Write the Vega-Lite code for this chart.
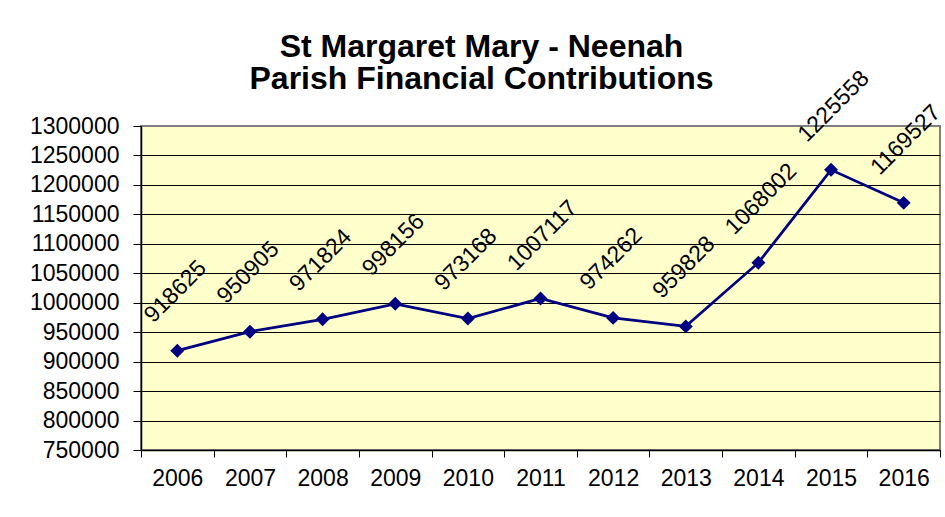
{
  "$schema": "https://vega.github.io/schema/vega-lite/v6.json",
  "width": 799,
  "height": 324,
  "autosize": {"type": "none"},
  "padding": {"left": 141, "top": 126, "right": 5, "bottom": 67},
  "background": "white",
  "title": {
    "text": ["St Margaret Mary - Neenah", "Parish Financial Contributions"],
    "font": "Liberation Sans",
    "fontSize": 32,
    "fontWeight": "bold",
    "color": "black",
    "anchor": "middle",
    "frame": "group",
    "dx": -59,
    "offset": -29,
    "lineHeight": 32
  },
  "config": {
    "view": {"fill": "#FFFFCC", "stroke": "#808080", "strokeWidth": 2},
    "axis": {"labelFont": "Liberation Sans", "labelFontSize": 23, "labelColor": "black", "tickColor": "black", "domainColor": "black", "domainWidth": 1.5}
  },
  "data": {
    "values": [
      {"year": "2006", "amount": 918625},
      {"year": "2007", "amount": 950905},
      {"year": "2008", "amount": 971824},
      {"year": "2009", "amount": 998156},
      {"year": "2010", "amount": 973168},
      {"year": "2011", "amount": 1007117},
      {"year": "2012", "amount": 974262},
      {"year": "2013", "amount": 959828},
      {"year": "2014", "amount": 1068002},
      {"year": "2015", "amount": 1225558},
      {"year": "2016", "amount": 1169527}
    ]
  },
  "encoding": {
    "x": {
      "field": "year",
      "type": "ordinal",
      "scale": {"type": "band", "paddingInner": 0, "paddingOuter": 0},
      "axis": {"title": null, "labelAngle": 0, "tickSize": 7, "tickBand": "extent", "labelPadding": 10, "grid": false}
    },
    "y": {
      "field": "amount",
      "type": "quantitative",
      "scale": {"domain": [750000, 1300000], "nice": false, "zero": false},
      "axis": {
        "title": null,
        "format": "d",
        "values": [750000, 800000, 850000, 900000, 950000, 1000000, 1050000, 1100000, 1150000, 1200000, 1250000, 1300000],
        "tickSize": 8,
        "labelPadding": 14,
        "grid": true,
        "gridColor": {"condition": {"test": "datum.value === 1300000", "value": "#808080"}, "value": "black"},
        "gridOpacity": 1,
        "gridWidth": 1
      }
    }
  },
  "layer": [
    {
      "mark": {
        "type": "line",
        "color": "#000080",
        "strokeWidth": 2.75,
        "point": {"shape": "diamond", "size": 195, "filled": true, "color": "#000080", "opacity": 1}
      }
    },
    {
      "mark": {
        "type": "text",
        "angle": -45,
        "align": "left",
        "baseline": "alphabetic",
        "dx": 2,
        "dy": -36,
        "font": "Liberation Sans",
        "fontSize": 23,
        "color": "black"
      },
      "encoding": {"text": {"field": "amount", "type": "quantitative", "format": "d"}}
    }
  ]
}
